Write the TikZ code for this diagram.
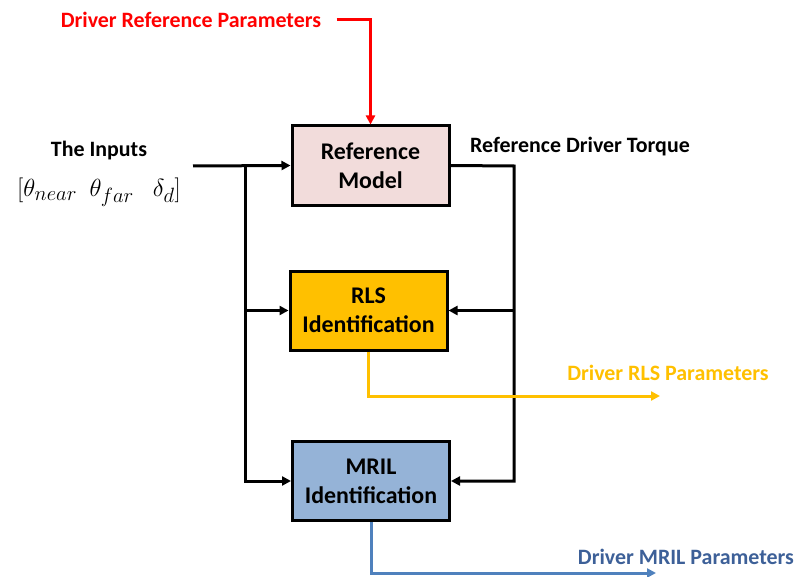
\documentclass[tikz,border=0pt]{standalone}
\usepackage{amsmath}
\usepackage{fontspec}
\setmainfont{Carlito}
\usetikzlibrary{arrows.meta}

\definecolor{refpink}{HTML}{F2DCDB}
\definecolor{rlsgold}{HTML}{FFC000}
\definecolor{mrilblue}{HTML}{95B3D7}
\definecolor{outblue}{HTML}{4F81BD}
\definecolor{txtblue}{HTML}{3D6098}

\tikzset{
  blockbox/.style={draw, line width=3bp, minimum width=157bp, minimum height=79bp,
    align=center, inner sep=1bp, font=\fontsize{24}{29}\selectfont\bfseries},
  lbl/.style={font=\fontsize{22}{26}\selectfont\bfseries},
  sig/.style={line width=3bp},
  tip/.style={-{Triangle[length=9bp,width=9bp]}}
}

\begin{document}
\begin{tikzpicture}[x=1bp, y=-1bp]
  \useasboundingbox (0,0) rectangle (797,577);

  % blocks
  \node[blockbox, fill=refpink] (refm) at (370.5,165.5) {Reference\\Model};
  \node[blockbox, fill=rlsgold] (rls) at (368.5,310.5) {RLS\\Identification};
  \node[blockbox, fill=mrilblue] (mril) at (371,481) {MRIL\\Identification};

  % labels
  \node[lbl, text=red] (drp) at (191,20) {Driver Reference Parameters};
  \node[lbl] (inlbl) at (99,151) {The Inputs};
  \node[font=\fontsize{28}{32}\selectfont] (invec) at (99,192)
    {$[\theta_{near}\ \ \theta_{far}\ \ \ \delta_d]$};
  \node[lbl] (tqlbl) at (580,147) {Reference Driver Torque};
  \node[lbl, text=rlsgold] (rlslbl) at (668,373) {Driver RLS Parameters};
  \node[lbl, text=txtblue] (mrillbl) at (686,557) {Driver MRIL Parameters};

  % wiring points
  \coordinate (inp) at (193,166);
  \coordinate (split) at (245,166);
  \coordinate (tq) at (514,166);
  \coordinate (rlsend) at (660,396);
  \coordinate (mrilend) at (656,573);

  % reference parameters
  \draw[sig, tip, red] ([xshift=12bp]drp.east) -| (refm.north);

  % inputs to the three blocks
  \draw[sig, tip] (inp) -- (refm.west);
  \draw[sig, tip] (split) |- (rls.west);
  \draw[sig, tip] (split) |- (mril.west);

  % reference torque fed back
  \draw[sig, tip] (refm.east) -- (tq) |- (mril.east);
  \draw[sig, tip] (tq |- rls.east) -- (rls.east);

  % identified parameters
  \draw[sig, tip, rlsgold] (rls.south) |- (rlsend);
  \draw[sig, tip, outblue] (mril.south) |- (mrilend);
\end{tikzpicture}
\end{document}
